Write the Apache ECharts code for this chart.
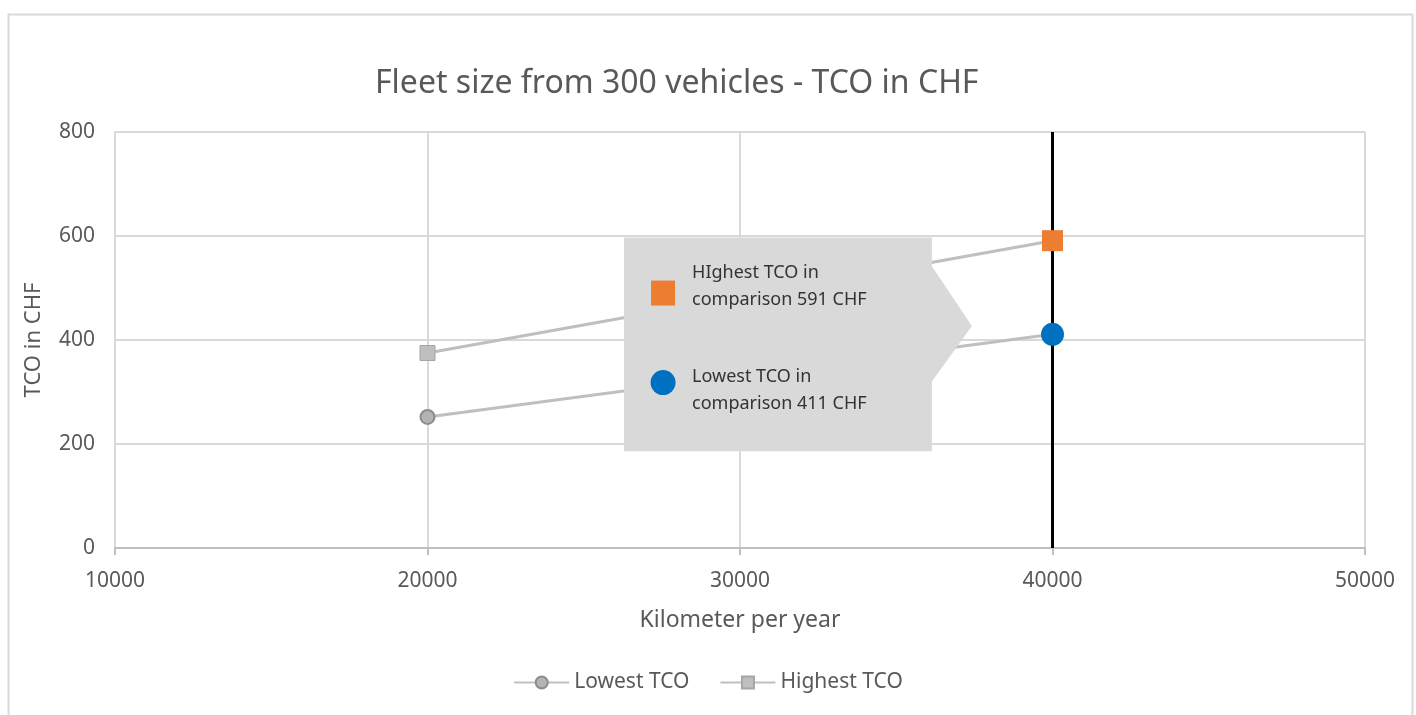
<!DOCTYPE html>
<html>
<head>
<meta charset="utf-8">
<script src="https://cdn.jsdelivr.net/npm/echarts@6/dist/echarts.min.js"></script>
<style>
html,body{margin:0;padding:0;background:#fff;}
#c{width:1416px;height:715px;}
</style>
</head>
<body>
<div id="c"></div>
<script>
// ---- data ----
const kmPerYear = [20000, 40000];
const lowestTCO = [252, 411];
const highestTCO = [375, 591];
const highlightKm = 40000;
const highlightHigh = 591;
const highlightLow = 411;
const seriesNames = ['Lowest TCO', 'Highest TCO'];
const calloutLines = [
  ['HIghest TCO in', 'comparison 591 CHF'],
  ['Lowest TCO in', 'comparison 411 CHF']
];

const FONT = 'Noto Sans';
const TXT = '#595959';

const chart = echarts.init(document.getElementById('c'), null, {renderer: 'canvas'});

const option = {
  backgroundColor: '#ffffff',
  animation: false,
  textStyle: {fontFamily: FONT, color: TXT},
  title: {
    text: 'Fleet size from 300 vehicles - TCO in CHF',
    left: 370,
    top: 63,
    textStyle: {fontFamily: FONT, fontSize: 32, fontWeight: 'normal', color: TXT}
  },
  grid: {left: 115, right: 51, top: 132, bottom: 167},
  legend: {
    bottom: 17,
    left: 'center',
    itemWidth: 55,
    itemHeight: 15,
    itemGap: 30,
    data: seriesNames,
    textStyle: {fontFamily: FONT, fontSize: 21, color: TXT}
  },
  xAxis: {
    type: 'value',
    min: 10000,
    max: 50000,
    interval: 10000,
    name: 'Kilometer per year',
    nameLocation: 'middle',
    nameGap: 61,
    nameTextStyle: {fontFamily: FONT, fontSize: 23, color: TXT},
    axisLine: {show: true, lineStyle: {color: '#bfbfbf', width: 2}},
    axisTick: {show: true, length: 7, lineStyle: {color: '#bfbfbf', width: 2}},
    axisLabel: {fontFamily: FONT, fontSize: 21, color: TXT, margin: 23, formatter: v => String(v)},
    splitLine: {show: true, lineStyle: {color: '#d9d9d9', width: 2}}
  },
  yAxis: {
    type: 'value',
    min: 0,
    max: 800,
    interval: 200,
    name: 'TCO in CHF',
    nameLocation: 'middle',
    nameGap: 70,
    nameRotate: 90,
    nameTextStyle: {fontFamily: FONT, fontSize: 22, color: TXT},
    axisLine: {show: true, lineStyle: {color: '#d9d9d9', width: 2}},
    axisTick: {show: false},
    axisLabel: {fontFamily: FONT, fontSize: 21, color: TXT, margin: 20},
    splitLine: {show: true, lineStyle: {color: '#d9d9d9', width: 2}}
  },
  series: [
    {
      name: seriesNames[0],
      type: 'line',
      data: kmPerYear.map((x, i) => [x, lowestTCO[i]]),
      symbol: 'circle',
      symbolSize: 14,
      lineStyle: {color: '#bfbfbf', width: 3},
      itemStyle: {color: '#b3b3b3', borderColor: '#8c8c8c', borderWidth: 2},
      z: 3
    },
    {
      name: seriesNames[1],
      type: 'line',
      data: kmPerYear.map((x, i) => [x, highestTCO[i]]),
      symbol: 'rect',
      symbolSize: 15,
      lineStyle: {color: '#bfbfbf', width: 3},
      itemStyle: {color: '#bfbfbf', borderColor: '#a6a6a6', borderWidth: 1},
      z: 3
    },
    {
      name: 'marker line',
      type: 'line',
      data: [],
      silent: true,
      markLine: {
        silent: true,
        symbol: 'none',
        label: {show: false},
        lineStyle: {color: '#000000', width: 3, type: 'solid'},
        data: [[{coord: [highlightKm, 0]}, {coord: [highlightKm, 800]}]]
      },
      z: 4
    },
    {
      name: 'highlight high',
      type: 'scatter',
      data: [[highlightKm, highlightHigh]],
      symbol: 'rect',
      symbolSize: 21,
      itemStyle: {color: '#ED7D31', opacity: 1},
      z: 6
    },
    {
      name: 'highlight low',
      type: 'scatter',
      data: [[highlightKm, highlightLow]],
      symbol: 'circle',
      symbolSize: 23,
      itemStyle: {color: '#0070C0', opacity: 1},
      z: 6
    }
  ]
};
chart.setOption(option);

// Callout annotation, anchored in data coordinates
function px(x, y) { return chart.convertToPixel({gridIndex: 0}, [x, y]); }
const tl = px(26290, 597);
const br = px(36140, 186);
const aTop = px(36140, 542);
const aTip = px(37420, 427);
const aBot = px(36140, 320);

const graphics = [
  {
    type: 'rect',
    left: 6, top: 12,
    shape: {x: 0, y: 0, width: 1404, height: 720},
    style: {fill: 'none', stroke: '#d9d9d9', lineWidth: 2},
    silent: true, z: 0
  },
  {
    type: 'polygon',
    shape: {points: [
      [tl[0], tl[1]], [br[0], tl[1]], [aTop[0], aTop[1]], [aTip[0], aTip[1]],
      [aBot[0], aBot[1]], [br[0], br[1]], [tl[0], br[1]]
    ]},
    style: {fill: '#d9d9d9'},
    z: 100
  },
  {
    type: 'rect',
    shape: {x: tl[0] + 27, y: tl[1] + 43, width: 24, height: 25},
    style: {fill: '#ED7D31'},
    z: 101
  },
  {
    type: 'circle',
    shape: {cx: tl[0] + 39, cy: tl[1] + 145, r: 12.5},
    style: {fill: '#0070C0'},
    z: 101
  },
  {
    type: 'text',
    x: tl[0] + 68, y: tl[1] + 22,
    style: {text: calloutLines[0].join('\n'), font: '18px "Noto Sans"', fill: '#333333', lineHeight: 27},
    z: 101
  },
  {
    type: 'text',
    x: tl[0] + 68, y: tl[1] + 126,
    style: {text: calloutLines[1].join('\n'), font: '18px "Noto Sans"', fill: '#333333', lineHeight: 27},
    z: 101
  }
];
chart.setOption({graphic: graphics});
</script>
</body>
</html>
